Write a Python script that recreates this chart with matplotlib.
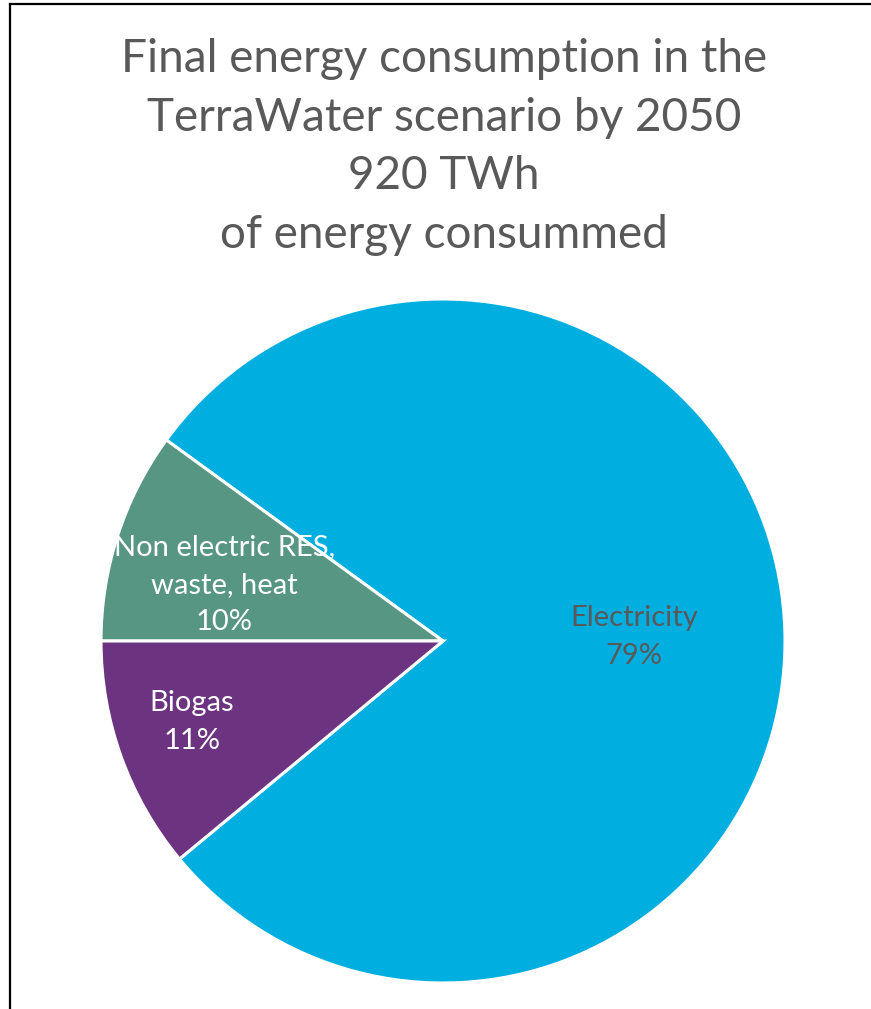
import matplotlib.pyplot as plt
from matplotlib.lines import Line2D

title_lines = ["Final energy consumption in the",
               "TerraWater scenario by 2050",
               "920 TWh",
               "of energy consummed"]
labels = ["Electricity", "Non electric RES,\nwaste, heat", "Biogas"]
shares = [79, 10, 11]
colors = ["#00AEDF", "#589684", "#6C3480"]
label_colors = ["#595959", "white", "white"]
# label anchors in pie radius units
label_pos = [(0.558, 0.012), (-0.64, 0.164), (-0.734, -0.237)]

plt.rcParams['font.family'] = ['Lato', 'DejaVu Sans']

W, H = 871, 1009
fig = plt.figure(figsize=(W / 100, H / 100), dpi=100)

# pie axes: centre (443, 641) px, radius 342 px
cx, cy, r = 443, 641, 342
ax = fig.add_axes([(cx - r) / W, (H - cy - r) / H, 2 * r / W, 2 * r / H])
wedges, _ = ax.pie(shares, colors=colors, startangle=219.6, counterclock=True,
                   radius=1.0, wedgeprops=dict(edgecolor="white", linewidth=2.2))
ax.set_xlim(-1, 1)
ax.set_ylim(-1, 1)
ax.set_aspect('equal')
ax.axis('off')

for lab, val, col, (x, y) in zip(labels, shares, label_colors, label_pos):
    ax.text(x, y, f"{lab}\n{val}%", color=col,
            fontsize=21, ha='center', va='center', linespacing=1.55)

fig.text(444 / W, 1 - 147 / H, "\n".join(title_lines), fontsize=33, color="#595959",
         ha='center', va='center', linespacing=1.49)

# frame: left and top edges only
fig.add_artist(Line2D([10 / W, 10 / W], [0, 1 - 4 / H], color='black', lw=1.6,
                      transform=fig.transFigure))
fig.add_artist(Line2D([10 / W, 1], [1 - 4 / H, 1 - 4 / H], color='black', lw=1.6,
                      transform=fig.transFigure))

fig.savefig("out.png", dpi=100)
